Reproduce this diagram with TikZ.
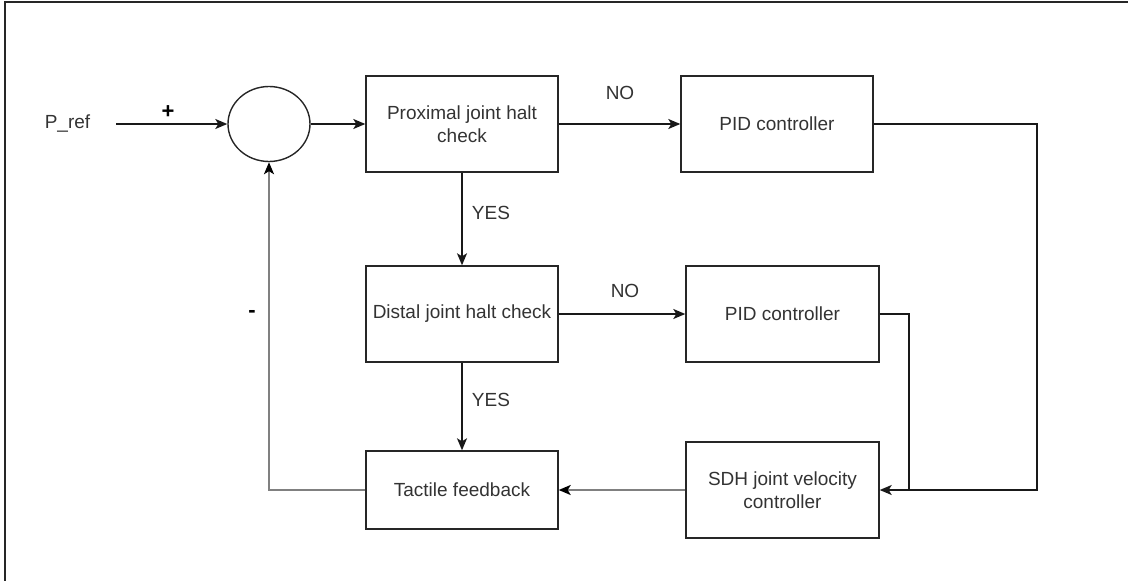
\documentclass[tikz,border=0pt]{standalone}
\usepackage{fontspec}
\setmainfont{Liberation Sans}
\usetikzlibrary{arrows.meta,shapes.geometric}
\begin{document}
\begin{tikzpicture}[x=1pt,y=-1pt,
  every node/.style={font=\fontsize{19}{23}\selectfont, text=black!80},
  block/.style={draw=black!85, line width=1.4pt, rectangle, minimum width=192pt, minimum height=96pt, align=center, inner sep=0pt},
  conn/.style={draw=black!90, line width=1.4pt},
  arr/.style={conn, -{Stealth[length=12pt,width=10pt,inset=3pt]}},
  grayarr/.style={draw=black!50, line width=2pt, -{Stealth[length=12pt,width=10pt,inset=3pt,color=black]}},
  lbl/.style={inner sep=0pt}
]
\useasboundingbox (0,0) rectangle (1128,581);
% outer frame (left and top edges only)
\draw[black!85, line width=2pt] (5,581) -- (5,2) -- (1128,2);

% blocks
\node[lbl, inner xsep=26pt] (pref) at (67.5,124) {P\_ref};
\node[draw=black!85, line width=1.4pt, ellipse, minimum width=82pt, minimum height=75pt, inner sep=0pt] (sum) at (269,124) {};
\node[block] (prox) at (462,124) {Proximal joint halt\\check};
\node[block] (pid1) at (777,124) {PID controller};
\node[block] (dist) at (462,314) {Distal joint halt check};
\node[block, minimum width=193pt] (pid2) at (782.5,314) {PID controller};
\node[block, minimum width=193pt] (sdh) at (782.5,490) {SDH joint velocity\\controller};
\node[block, minimum height=78pt] (tact) at (462,490) {Tactile feedback};

% routing points of the output lines
\coordinate (r1) at (1037,124);
\coordinate (r2) at (1037,490);
\coordinate (j1) at (909,314);
\coordinate (j2) at (909,490);

% forward path
\draw[arr] (pref.east) -- (sum.west);
\draw[arr] (sum.east) -- (prox.west);
\draw[arr] (prox.east) -- (pid1.west);
\draw[arr] (prox.south) -- (dist.north);
\draw[arr] (dist.east) -- (pid2.west);
\draw[arr] (dist.south) -- (tact.north);

% controller outputs into the velocity controller
\draw[arr] (pid1.east) -- (r1) -- (r2) -- (sdh.east);
\draw[conn] (pid2.east) -- (j1) -- (j2);

% feedback path
\draw[grayarr] (sdh.west) -- (tact.east);
\draw[grayarr] (tact.west) -| (sum.south);

% labels
\node[lbl, font=\bfseries\fontsize{22}{24}\selectfont, text=black] (plus) at (168,112) {+};
\node[lbl, font=\bfseries\fontsize{22}{24}\selectfont, text=black] (minus) at (252,314) {-};
\node[lbl] (no1) at (620,93) {NO};
\node[lbl] (yes1) at (491,213) {YES};
\node[lbl] (no2) at (625,291) {NO};
\node[lbl] (yes2) at (491,400) {YES};
\end{tikzpicture}
\end{document}
